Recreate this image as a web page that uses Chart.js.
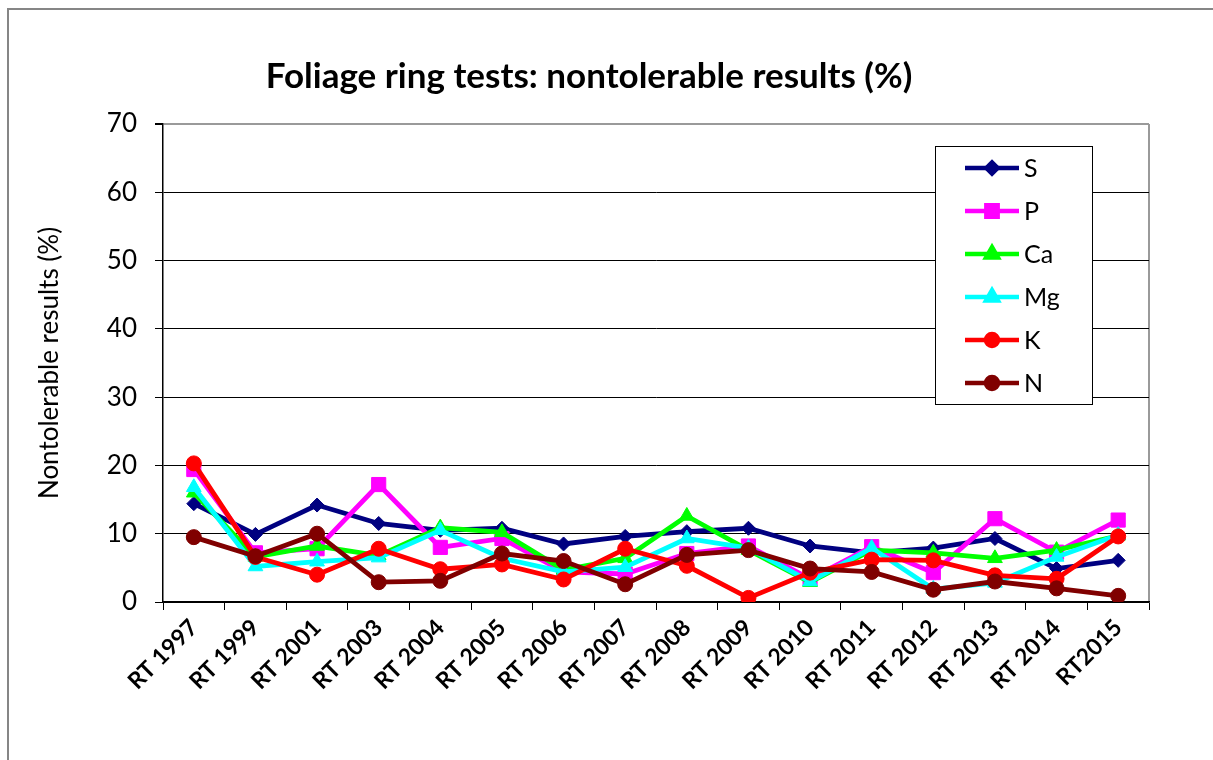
<!DOCTYPE html>
<html>
<head>
<meta charset="utf-8">
<script src="https://cdn.jsdelivr.net/npm/chart.js@4/dist/chart.umd.min.js"></script>
<style>
  html, body { margin: 0; padding: 0; background: #fff; }
  #wrap { width: 1213px; height: 760px; }
</style>
</head>
<body>
<div id="wrap"><canvas id="ringChart" width="1213" height="760"></canvas></div>
<script>
// Foliage ring tests
const rounds = ['RT 1997', 'RT 1999', 'RT 2001', 'RT 2003', 'RT 2004', 'RT 2005', 'RT 2006', 'RT 2007',
                'RT 2008', 'RT 2009', 'RT 2010', 'RT 2011', 'RT 2012', 'RT 2013', 'RT 2014', 'RT2015'];

const sValues  = [14.4, 9.9, 14.2, 11.5, 10.5, 10.8, 8.5, 9.6, 10.3, 10.8, 8.2, 7.2, 7.9, 9.3, 4.9, 6.1];
const pValues  = [19.4, 7.2, 7.8, 17.2, 8.0, 9.3, 4.4, 4.1, 7.1, 8.2, 3.4, 8.1, 4.3, 12.2, 7.3, 12.0];
const caValues = [16.0, 6.6, 8.2, 6.8, 10.9, 10.2, 4.7, 6.4, 12.6, 7.6, 2.9, 7.6, 7.2, 6.4, 7.6, 9.7];
const mgValues = [16.8, 5.2, 5.9, 6.5, 10.5, 6.4, 4.4, 5.1, 9.3, 7.9, 3.0, 7.9, 1.9, 2.8, 6.6, 9.8];
const kValues  = [20.3, 6.6, 4.0, 7.8, 4.8, 5.5, 3.3, 7.8, 5.3, 0.6, 4.3, 6.2, 6.1, 3.9, 3.4, 9.6];
const nValues  = [9.5, 6.7, 10.0, 2.9, 3.1, 7.1, 6.0, 2.6, 6.9, 7.6, 4.9, 4.4, 1.8, 3.0, 2.0, 0.9];

const yTicks = [0, 10, 20, 30, 40, 50, 60, 70];

const chartTitle = 'Foliage ring tests: nontolerable results (%)';
const FONT = 'Lato, "Open Sans", sans-serif';

function series(label, data, color, style, radius, order) {
    return {
        label: label,
        data: data,
        borderColor: color,
        backgroundColor: color,
        pointBackgroundColor: color,
        pointBorderColor: color,
        pointStyle: style,
        pointRadius: radius,
        pointBorderWidth: 1,
        borderWidth: 4.8,
        tension: 0,
        order: order
    };
}

const datasets = [
    series('S',  sValues,  '#000080', 'rectRot',  7,   5),
    series('P',  pValues,  '#ff00ff', 'rect',     10,  4),
    series('Ca', caValues, '#00ff00', 'triangle', 8.5, 3),
    series('Mg', mgValues, '#00ffff', 'triangle', 8.5, 2),
    series('K',  kValues,  '#ff0000', 'circle',   7.5, 1),
    series('N',  nValues,  '#800000', 'circle',   7.5, 0)
];

// frame, title and the boxed legend drawn by hand
const decorPlugin = {
    id: 'decor',
    beforeDraw(chart) {
        const ctx = chart.ctx;
        const a = chart.chartArea;
        ctx.save();
        ctx.fillStyle = '#fff';
        ctx.fillRect(0, 0, chart.width, chart.height);
        ctx.strokeStyle = '#868686';
        ctx.lineWidth = 2;
        ctx.beginPath();
        ctx.moveTo(8, chart.height);
        ctx.lineTo(8, 9);
        ctx.lineTo(chart.width, 9);
        ctx.stroke();

        ctx.fillStyle = '#000';
        ctx.font = 'bold 35px ' + FONT;
        ctx.textAlign = 'center';
        ctx.textBaseline = 'middle';
        ctx.fillText(chartTitle, 589, 77);

        // right edge of the plot area
        ctx.strokeStyle = '#9a9a9a';
        ctx.lineWidth = 2;
        ctx.beginPath();
        ctx.moveTo(a.right, a.top);
        ctx.lineTo(a.right, a.bottom);
        ctx.stroke();
        ctx.restore();
    },
    afterDatasetsDraw(chart) {
        const ctx = chart.ctx;
        const a = chart.chartArea;
        const bx = a.right - 214, by = a.top + 22, bw = 157, bh = 258;
        ctx.save();
        ctx.fillStyle = '#fff';
        ctx.fillRect(bx, by, bw, bh);
        ctx.strokeStyle = '#000';
        ctx.lineWidth = 1;
        ctx.strokeRect(bx + 0.5, by + 0.5, bw, bh);

        ctx.font = '25px ' + FONT;
        ctx.textBaseline = 'middle';
        ctx.textAlign = 'left';
        chart.data.datasets.forEach(function(ds, i) {
            const y = by + 22 + i * 43;
            ctx.strokeStyle = ds.borderColor;
            ctx.lineWidth = 4.5;
            ctx.beginPath();
            ctx.moveTo(bx + 30, y);
            ctx.lineTo(bx + 84, y);
            ctx.stroke();
            ctx.fillStyle = ds.borderColor;
            Chart.helpers.drawPoint(ctx, {
                pointStyle: ds.pointStyle,
                radius: ds.pointRadius * 0.8,
                rotation: 0,
                borderWidth: 1
            }, bx + 57, y);
            ctx.fillStyle = '#000';
            ctx.fillText(ds.label, bx + 89, y + 1);
        });
        ctx.restore();
    }
};

document.addEventListener('DOMContentLoaded', function() {
    const ctx = document.getElementById('ringChart');
    new Chart(ctx, {
        type: 'line',
        data: { labels: rounds, datasets: datasets },
        plugins: [decorPlugin],
        options: {
            responsive: false,
            animation: false,
            devicePixelRatio: 1,
            layout: { padding: { top: 124, right: 64, bottom: 0, left: 0 } },
            plugins: {
                legend: { display: false },
                title: { display: false },
                tooltip: { enabled: false }
            },
            scales: {
                x: {
                    offset: true,
                    afterFit: function(s) { s.height = 158; },
                    grid: {
                        offset: true,
                        drawOnChartArea: false,
                        drawTicks: true,
                        tickLength: 8,
                        tickColor: '#000'
                    },
                    border: { color: '#000', width: 1.5 },
                    ticks: {
                        minRotation: 45,
                        maxRotation: 45,
                        autoSkip: false,
                        padding: 4,
                        color: '#000',
                        font: { family: FONT, size: 23, weight: 'bold' }
                    }
                },
                y: {
                    min: 0,
                    max: 70,
                    afterFit: function(s) { s.width = 163; },
                    afterBuildTicks: function(s) {
                        s.ticks = yTicks.map(function(v) { return { value: v }; });
                    },
                    grid: {
                        color: function(c) { return c.tick && c.tick.value === 70 ? '#9a9a9a' : '#000'; },
                        lineWidth: function(c) { return c.tick && c.tick.value === 70 ? 2 : 1; },
                        tickLength: 8,
                        tickColor: '#000'
                    },
                    border: { color: '#000', width: 1.5 },
                    ticks: {
                        padding: 18,
                        color: '#000',
                        font: { family: FONT, size: 26 }
                    },
                    title: {
                        display: true,
                        text: 'Nontolerable results (%)',
                        color: '#000',
                        padding: { top: 34, bottom: 0 },
                        font: { family: FONT, size: 26 }
                    }
                }
            }
        }
    });
});
</script>
</body>
</html>
